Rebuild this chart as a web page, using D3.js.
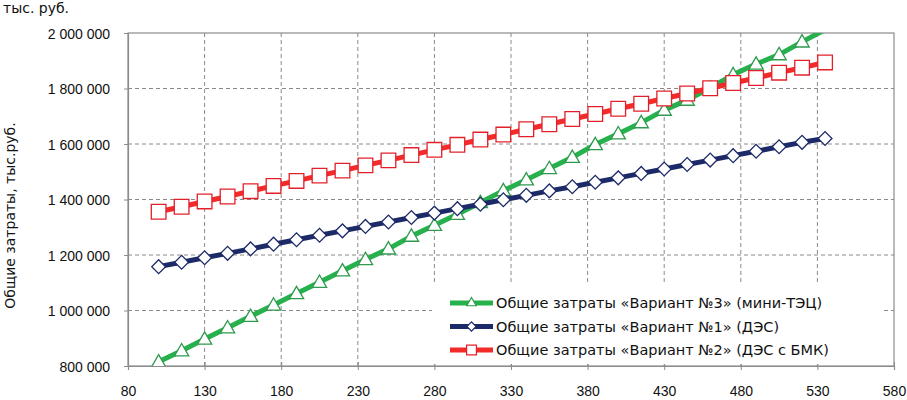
<!DOCTYPE html>
<html>
<head>
<meta charset="utf-8">
<script src="https://cdn.jsdelivr.net/npm/d3@7"></script>
<style>
  html, body { margin: 0; padding: 0; background: #fff; }
  svg { display: block; font-family: "DejaVu Sans", sans-serif; }
  .grid line { stroke: #8a8a8a; stroke-width: 1; stroke-dasharray: 4 3; }
  .frame { fill: none; stroke: #8c8c8c; stroke-width: 1.2; }
  .tick-label { font-size: 14px; fill: #111; }
  .legend text { font-size: 14.5px; fill: #111; }
</style>
</head>
<body>
<svg id="chart" width="907" height="400"></svg>
<script>
(function () {
  "use strict";

  // power, kW (x axis)
  const xValues = [100, 115, 130, 145, 160, 175, 190, 205, 220, 235,
                   250, 265, 280, 295, 310, 325, 340, 355, 370, 385,
                   400, 415, 430, 445, 460, 475, 490, 505, 520, 535];

  // total costs, thousand rubles
  const variant3 = [815000, 855000, 897000, 938000, 979000, 1020000, 1061000, 1102000, 1143000, 1184000,
                    1222000, 1268000, 1307000, 1347000, 1389000, 1432000, 1471000, 1512000, 1552000, 1598000,
                    1637000, 1677000, 1722000, 1758000, 1802000, 1850000, 1888000, 1922000, 1968000, 2012000];
  const variant1 = [1158000, 1174000, 1190000, 1206000, 1222000, 1239000, 1255000, 1271000, 1287000, 1303000,
                    1319000, 1335000, 1351000, 1367000, 1383000, 1399000, 1415000, 1431000, 1446000, 1462000,
                    1478000, 1494000, 1510000, 1526000, 1542000, 1558000, 1574000, 1590000, 1606000, 1620000];
  const variant2 = [1356000, 1374000, 1393000, 1411000, 1430000, 1449000, 1467000, 1486000, 1504000, 1523000,
                    1541000, 1560000, 1579000, 1597000, 1616000, 1634000, 1653000, 1671000, 1690000, 1708000,
                    1727000, 1745000, 1764000, 1782000, 1801000, 1820000, 1838000, 1857000, 1875000, 1894000];

  const xTicks = [80, 130, 180, 230, 280, 330, 380, 430, 480, 530, 580];
  const yTicks = [800000, 1000000, 1200000, 1400000, 1600000, 1800000, 2000000];

  const unitLabel = "тыс. руб.";
  const yTitle = "Общие затраты, тыс.руб.";

  const series = [
    { name: "Общие затраты «Вариант №3» (мини-ТЭЦ)", values: variant3, line: "#26b14c", marker: "#2f9a4e", shape: "triangle" },
    { name: "Общие затраты «Вариант №1» (ДЭС)", values: variant1, line: "#1d2a68", marker: "#1d2a68", shape: "diamond" },
    { name: "Общие затраты «Вариант №2» (ДЭС с БМК)", values: variant2, line: "#f32a2a", marker: "#e3202a", shape: "square" },
  ];

  const width = 907, height = 400;
  const margin = { top: 33, right: 13, bottom: 34, left: 128 };

  const svg = d3.select("#chart");
  const x = d3.scaleLinear().domain([80, 580]).range([margin.left, width - margin.right]);
  const y = d3.scaleLinear().domain([800000, 2000000]).range([height - margin.bottom, margin.top]);

  const ru = d3.formatLocale({ decimal: ",", thousands: "\u00a0", grouping: [3], currency: ["", ""] });
  const fmt = ru.format(",d");

  // grid
  const grid = svg.append("g").attr("class", "grid");
  grid.selectAll("line.v")
    .data(xTicks.slice(1, -1))
    .join("line")
    .attr("x1", (d) => x(d)).attr("x2", (d) => x(d))
    .attr("y1", y(2000000)).attr("y2", y(800000));
  grid.selectAll("line.h")
    .data(yTicks.slice(1, -1))
    .join("line")
    .attr("class", "h")
    .attr("x1", x(80)).attr("x2", x(580))
    .attr("y1", (d) => y(d)).attr("y2", (d) => y(d));

  svg.append("rect")
    .attr("class", "frame")
    .attr("x", x(80)).attr("y", y(2000000))
    .attr("width", x(580) - x(80)).attr("height", y(800000) - y(2000000));

  // axes
  const yAxis = svg.append("g")
    .attr("transform", `translate(${x(80)},0)`)
    .call(d3.axisLeft(y).tickValues(yTicks).tickFormat(fmt).tickSize(4).tickPadding(14));
  const xAxis = svg.append("g")
    .attr("transform", `translate(0,${y(800000)})`)
    .call(d3.axisBottom(x).tickValues(xTicks).tickSize(4).tickPadding(16));
  [yAxis, xAxis].forEach((g) => {
    g.select(".domain").attr("stroke", "#8c8c8c").attr("stroke-width", 1.2);
    g.selectAll(".tick line").attr("stroke", "#8c8c8c");
    g.selectAll(".tick text").attr("class", "tick-label").attr("font-family", null).attr("font-size", null);
  });
  xAxis.selectAll(".tick line").attr("y1", -4);
  yAxis.selectAll(".tick text").attr("dy", "0.36em");

  // titles
  svg.append("text")
    .attr("class", "tick-label")
    .attr("x", 3).attr("y", 13)
    .text(unitLabel);
  svg.append("text")
    .attr("class", "tick-label")
    .attr("transform", `translate(15,${(y(800000) + y(2000000)) / 2 + 16}) rotate(-90)`)
    .attr("text-anchor", "middle")
    .text(yTitle);

  // series
  svg.append("clipPath").attr("id", "plot-clip")
    .append("rect")
    .attr("x", x(80)).attr("y", y(2000000))
    .attr("width", x(580) - x(80)).attr("height", y(800000) - y(2000000));

  const symbolFor = (shape, scale) => {
    if (shape === "triangle") return d3.symbol(d3.symbolTriangle, 88 * scale)();
    if (shape === "square") return d3.symbol(d3.symbolSquare, 215 * scale)();
    return d3.symbol(d3.symbolSquare, 95 * scale)();
  };

  const line = d3.line().x((d) => x(d[0])).y((d) => y(d[1]));
  const plot = svg.append("g").attr("clip-path", "url(#plot-clip)");

  series.forEach((s) => {
    const pts = xValues.map((v, i) => [v, s.values[i]]);
    plot.append("path")
      .datum(pts)
      .attr("fill", "none")
      .attr("stroke", s.line)
      .attr("stroke-width", 5)
      .attr("stroke-linejoin", "round")
      .attr("d", line);
    plot.selectAll(null)
      .data(pts.filter((p) => p[1] <= 2000000))
      .join("path")
      .attr("d", symbolFor(s.shape, 1))
      .attr("transform", (p) => `translate(${x(p[0])},${y(p[1]) + (s.shape === "triangle" ? 1 : 0)})` + (s.shape === "diamond" ? " rotate(45)" : ""))
      .attr("fill", "#fff")
      .attr("stroke", s.marker)
      .attr("stroke-width", 1.3);
  });

  // legend
  const legend = svg.append("g").attr("class", "legend");
  legend.append("rect")
    .attr("x", 432).attr("y", 284).attr("width", 450).attr("height", 80)
    .attr("fill", "#fff");
  const rows = legend.selectAll("g.row")
    .data(series)
    .join("g")
    .attr("class", "row")
    .attr("transform", (d, i) => `translate(450,${303 + i * 23.5})`);
  rows.append("line")
    .attr("x1", 0).attr("x2", 43)
    .attr("stroke", (d) => d.line)
    .attr("stroke-width", 5);
  rows.append("path")
    .attr("d", (d) => symbolFor(d.shape, 0.45))
    .attr("transform", (d) => `translate(21.5,0)` + (d.shape === "diamond" ? " rotate(45)" : ""))
    .attr("fill", "#fff")
    .attr("stroke", (d) => d.marker)
    .attr("stroke-width", 1.2);
  rows.append("text")
    .attr("x", 46)
    .attr("dy", "0.36em")
    .text((d) => d.name);
})();
</script>
</body>
</html>
